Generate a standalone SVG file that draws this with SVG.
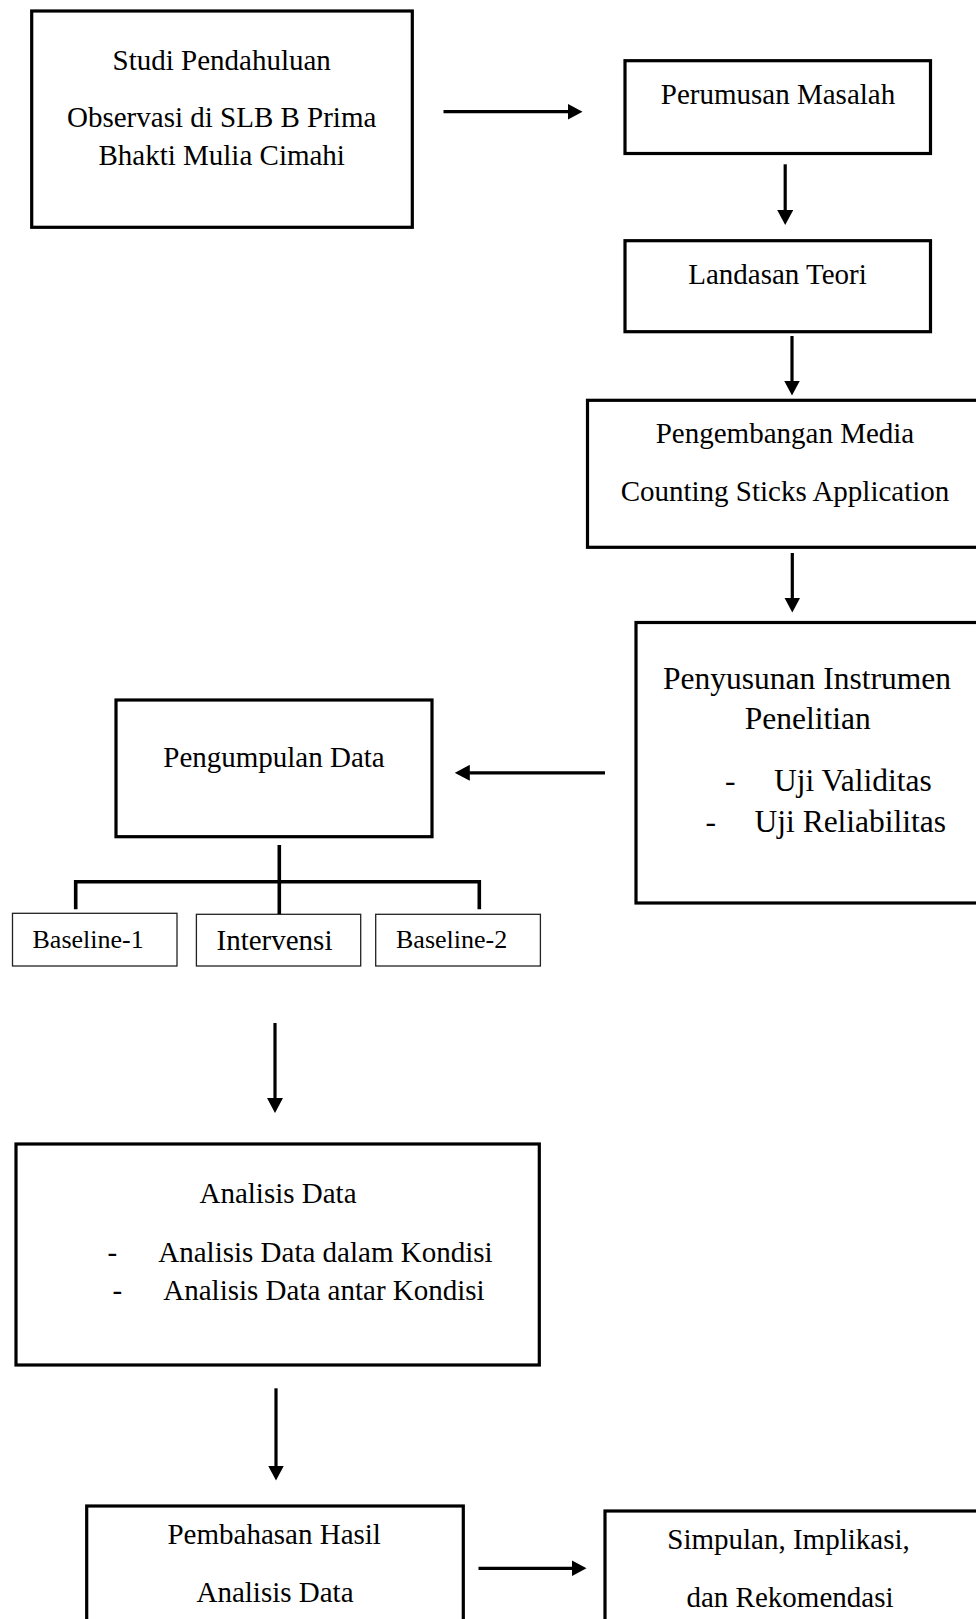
<svg xmlns="http://www.w3.org/2000/svg" width="976" height="1619" viewBox="0 0 976 1619">
<style>
.box{fill:#fff;stroke:#000;stroke-width:3.2}
.thin{fill:#fff;stroke:#222;stroke-width:1.3}
.t{font-family:"Liberation Serif","Times New Roman",serif;font-size:29px;fill:#000}
.c{text-anchor:middle}
.big{font-size:31.5px}
.sm{font-size:26px}
.ln{fill:none;stroke:#000;stroke-width:3.2}
</style>
<defs>
<marker id="ah" viewBox="0 0 15 16" refX="0.5" refY="8" markerWidth="15" markerHeight="16" markerUnits="userSpaceOnUse" orient="auto">
<path d="M0,0 L15,8 L0,16 Z" fill="#000"/>
</marker>
</defs>
<rect width="976" height="1619" fill="#fff"/>

<g id="studi">
<rect class="box" x="31.7" y="11" width="380.6" height="216.3"/>
<text class="t c" x="221.7" y="70">Studi Pendahuluan</text>
<text class="t c" x="221.7" y="127.3">Observasi di SLB B Prima</text>
<text class="t c" x="221.7" y="165">Bhakti Mulia Cimahi</text>
</g>
<g id="perumusan">
<rect class="box" x="625" y="60.7" width="305.5" height="92.8"/>
<text class="t c" x="778" y="104.3">Perumusan Masalah</text>
</g>
<g id="landasan">
<rect class="box" x="625" y="240.7" width="305.5" height="91"/>
<text class="t c" x="777.5" y="284">Landasan Teori</text>
</g>
<g id="pengembangan">
<rect class="box" x="587.5" y="400.3" width="400" height="147"/>
<text class="t c" x="785" y="442.5">Pengembangan Media</text>
<text class="t c" x="785" y="501">Counting Sticks Application</text>
</g>
<g id="penyusunan">
<rect class="box" x="636" y="622.5" width="360" height="280.5"/>
<text class="t c big" x="807" y="689.3">Penyusunan Instrumen</text>
<text class="t c big" x="807.7" y="729.2">Penelitian</text>
<text class="t big" x="725" y="791.4">-</text>
<text class="t big" x="774" y="791.4">Uji Validitas</text>
<text class="t big" x="705.5" y="832">-</text>
<text class="t big" x="754.5" y="832">Uji Reliabilitas</text>
</g>
<g id="pengumpulan">
<rect class="box" x="116" y="700" width="316" height="136.7"/>
<text class="t c" x="274" y="767.3">Pengumpulan Data</text>
</g>
<g id="baseline1">
<rect class="thin" x="12.5" y="913.3" width="164.5" height="52.7"/>
<text class="t sm" x="32.5" y="948.3">Baseline-1</text>
</g>
<g id="intervensi">
<rect class="thin" x="196.4" y="914.3" width="164.3" height="51.7"/>
<text class="t" x="216.5" y="950">Intervensi</text>
</g>
<g id="baseline2">
<rect class="thin" x="375.7" y="914.3" width="164.7" height="51.7"/>
<text class="t sm" x="396" y="948.3">Baseline-2</text>
</g>
<g id="analisis">
<rect class="box" x="16" y="1144" width="523.3" height="221"/>
<text class="t c" x="278" y="1203.3">Analisis Data</text>
<text class="t" x="107.5" y="1261.7">-</text>
<text class="t" x="158.3" y="1261.7">Analisis Data dalam Kondisi</text>
<text class="t" x="112.5" y="1299.5">-</text>
<text class="t" x="163.3" y="1299.5">Analisis Data antar Kondisi</text>
</g>
<g id="pembahasan">
<rect class="box" x="86.7" y="1506" width="376.6" height="140"/>
<text class="t c" x="274.2" y="1544">Pembahasan Hasil</text>
<text class="t c" x="275" y="1601.7">Analisis Data</text>
</g>
<g id="simpulan">
<rect class="box" x="605" y="1511" width="390" height="140"/>
<text class="t c" x="788.5" y="1548.5">Simpulan, Implikasi,</text>
<text class="t c" x="790" y="1606.5">dan Rekomendasi</text>
</g>

<g id="connectors">
<line class="ln" x1="443.5" y1="111.7" x2="568" y2="111.7" marker-end="url(#ah)"/>
<line class="ln" x1="785.2" y1="164.3" x2="785.2" y2="210.5" marker-end="url(#ah)"/>
<line class="ln" x1="792" y1="336" x2="792" y2="381" marker-end="url(#ah)"/>
<line class="ln" x1="792.3" y1="553" x2="792.3" y2="598" marker-end="url(#ah)"/>
<line class="ln" x1="605" y1="772.8" x2="469.3" y2="772.8" marker-end="url(#ah)"/>
<line class="ln" x1="279.3" y1="845" x2="279.3" y2="914" style="stroke-width:3.6"/>
<path class="ln" d="M75.7,909.3 V881.7 H479.3 V909.3" style="stroke-width:3.6"/>
<line class="ln" x1="275" y1="1023" x2="275" y2="1098.5" marker-end="url(#ah)"/>
<line class="ln" x1="276" y1="1388.3" x2="276" y2="1466" marker-end="url(#ah)"/>
<line class="ln" x1="478.5" y1="1568.3" x2="572" y2="1568.3" marker-end="url(#ah)"/>
</g>
</svg>
